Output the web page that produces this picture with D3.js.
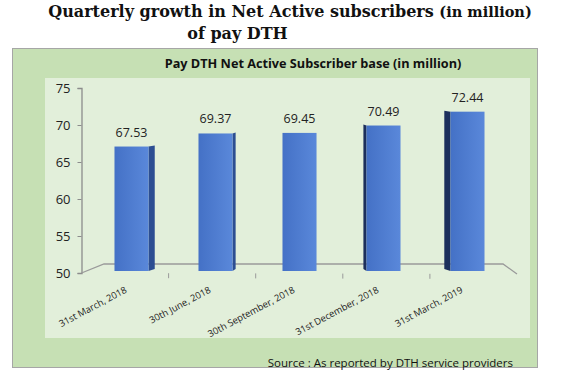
<!DOCTYPE html>
<html lang="en">
<head>
<meta charset="UTF-8"/>
<title>Pay DTH</title>
<script src="https://d3js.org/d3.v7.min.js"></script>
<style>
  body { margin: 0; background: #fff; }
  text { font-family: "Open Sans", "Noto Sans", sans-serif; }
</style>
</head>
<body>
<div id="chart"></div>
<script>
// data
var quarters = ["31st March, 2018", "30th June, 2018", "30th September, 2018", "31st December, 2018", "31st March, 2019"];
var subscribers = [67.53, 69.37, 69.45, 70.49, 72.44];
var yTicks = [50, 55, 60, 65, 70, 75];

var width = 564, height = 375;

var svg = d3.select("#chart").append("svg")
  .attr("width", width)
  .attr("height", height);

svg.append("rect").attr("width", width).attr("height", height).attr("fill", "#fff");

// page title (serif, two lines)
var title = svg.append("text")
  .attr("x", 290)
  .attr("y", 17)
  .attr("text-anchor", "middle")
  .style("font-family", "'DejaVu Serif', serif")
  .style("font-weight", "bold")
  .style("font-size", "16px")
  .attr("fill", "#111");
title.append("tspan").text("Quarterly growth in Net Active subscribers ");
title.append("tspan").style("font-size", "14.5px").text("(in million)");

svg.append("text")
  .attr("x", 237.5)
  .attr("y", 39)
  .attr("text-anchor", "middle")
  .style("font-family", "'DejaVu Serif', serif")
  .style("font-weight", "bold")
  .style("font-size", "16px")
  .attr("fill", "#111")
  .text("of pay DTH");

// outer green panel + inner plot area
svg.append("rect")
  .attr("x", 12.5).attr("y", 48.5)
  .attr("width", 525).attr("height", 319)
  .attr("fill", "#c6e0b4")
  .attr("stroke", "#a6a6a6");

svg.append("rect")
  .attr("x", 45).attr("y", 78)
  .attr("width", 485).attr("height", 260)
  .attr("fill", "#e2efda");

svg.append("text")
  .attr("x", 313).attr("y", 68)
  .attr("text-anchor", "middle")
  .style("font-weight", "bold")
  .style("font-size", "12.7px")
  .attr("fill", "#111")
  .text("Pay DTH Net Active Subscriber base (in million)");

// scales
var y = d3.scaleLinear().domain([50, 75]).range([273, 88]);
var yBar = d3.scaleLinear().domain([50, 75]).range([271, 93.5]);
var x = d3.scaleBand().domain(quarters)
  .range([89.5, 509.5])
  .paddingInner(0.595)
  .paddingOuter(0.2975);

// y axis
var yAxis = d3.axisLeft(y).tickValues(yTicks).tickSize(4).tickPadding(7);
var gy = svg.append("g").attr("transform", "translate(81.5,0)").call(yAxis);
gy.select(".domain").attr("stroke", "#8c8c8c").attr("stroke-width", 1.3);
gy.selectAll(".tick line").attr("stroke", "#8c8c8c");
gy.selectAll(".tick text")
  .style("font-family", "'Open Sans', sans-serif")
  .style("font-size", "13px")
  .attr("fill", "#222");

// 3D floor
var floor = [[81.5, 273], [104, 264], [503, 264], [517, 274]];
svg.append("path")
  .attr("d", d3.line()(floor))
  .attr("fill", "none")
  .attr("stroke", "#9a9a9a")
  .attr("stroke-width", 1.3);

// category ticks on the front edge of the floor
var front = d3.scaleLinear().domain([0, quarters.length]).range([81.5, 517]);
svg.selectAll(".xtick")
  .data(d3.range(1, quarters.length))
  .enter().append("line")
  .attr("x1", d => front(d)).attr("x2", d => front(d))
  .attr("y1", d => 273 + d * 0.2).attr("y2", d => 278 + d * 0.2)
  .attr("stroke", "#9a9a9a");

// gradient for the front faces
var defs = svg.append("defs");
var grad = defs.append("linearGradient").attr("id", "barGrad")
  .attr("x1", "0").attr("x2", "1").attr("y1", "0").attr("y2", "0");
grad.append("stop").attr("offset", "0%").attr("stop-color", "#4471c6");
grad.append("stop").attr("offset", "100%").attr("stop-color", "#5a88da");

var bars = svg.selectAll(".bar")
  .data(quarters.map((q, i) => ({ q: q, v: subscribers[i] })))
  .enter().append("g");

// side faces: left bars show their right side, right bars their left side
bars.append("path")
  .attr("d", function(d) {
    var x0 = x(d.q), x1 = x0 + x.bandwidth();
    var cx = x0 + x.bandwidth() / 2;
    var dx = -(cx - 300) * 0.037;
    var top = yBar(d.v), bot = yBar(50);
    var edge = dx > 0 ? x1 : x0;
    return d3.line()([[edge, top], [edge + dx, top - 1], [edge + dx, bot - 2], [edge, bot]]);
  })
  .attr("fill", function(d, i) { return i < 2 ? "#2c4e92" : "#1c2f5c"; });

bars.append("rect")
  .attr("x", d => x(d.q))
  .attr("y", d => yBar(d.v))
  .attr("width", x.bandwidth())
  .attr("height", d => yBar(50) - yBar(d.v))
  .attr("fill", "url(#barGrad)");

// value labels
bars.append("text")
  .attr("x", d => x(d.q) + x.bandwidth() / 2)
  .attr("y", d => yBar(d.v) - 10)
  .attr("text-anchor", "middle")
  .style("font-size", "12.5px")
  .attr("fill", "#222")
  .text(d => d.v.toFixed(2));

// rotated category labels
svg.selectAll(".xlabel")
  .data(quarters)
  .enter().append("text")
  .attr("text-anchor", "end")
  .attr("transform", d => "translate(" + (x(d) + x.bandwidth() / 2 - 4) + ",292) rotate(-28)")
  .style("font-size", "9.4px")
  .attr("fill", "#222")
  .text(d => d);

// source note
svg.append("text")
  .attr("x", 513).attr("y", 367)
  .attr("text-anchor", "end")
  .style("font-size", "11.5px")
  .attr("fill", "#111")
  .text("Source : As reported by DTH service providers");
</script>
</body>
</html>
